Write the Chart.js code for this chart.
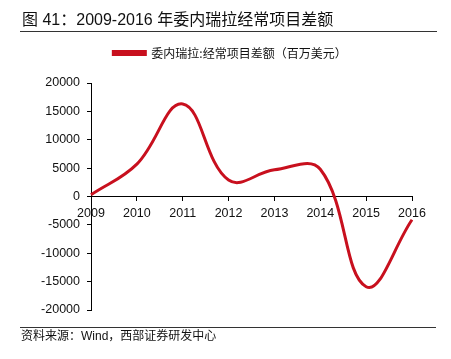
<!DOCTYPE html>
<html>
<head>
<meta charset="utf-8">
<script src="https://cdn.jsdelivr.net/npm/chart.js@4/dist/chart.umd.min.js"></script>
<style>
  html, body { margin: 0; padding: 0; background: #fff; }
  #wrap { position: relative; width: 451px; height: 359px; overflow: hidden; }
  #c { position: absolute; left: 0; top: 0; }
  .txt { position: absolute; white-space: nowrap; color: #111; font-family: "Liberation Sans", "Noto Sans CJK SC", sans-serif; }
  #title { left: 22px; top: 10px; font-size: 16px; line-height: 20px; }
  #src { left: 21px; top: 329px; font-size: 12px; line-height: 15px; }
  .rule { position: absolute; height: 1px; background: #333; }
</style>
</head>
<body>
<div id="wrap">
  <canvas id="c" width="451" height="359"></canvas>
  <div class="txt" id="title">图 41：2009-2016 年委内瑞拉经常项目差额</div>
  <div class="rule" style="left:20px; top:31px; width:417px;"></div>
  <div class="rule" style="left:20px; top:327px; width:416px;"></div>
  <div class="txt" id="src">资料来源：Wind，西部证券研发中心</div>
</div>
<script>
const categories = ['2009', '2010', '2011', '2012', '2013', '2014', '2015', '2016'];
const seriesName = '委内瑞拉:经常项目差额（百万美元）';
const currentAccount = [300, 5700, 16300, 2900, 4700, 4800, -15900, -4100];
const yTicks = [-20000, -15000, -10000, -5000, 0, 5000, 10000, 15000, 20000];

const tickFont = { family: '"Liberation Sans", Arial, sans-serif', size: 12.5 };

new Chart(document.getElementById('c'), {
  type: 'line',
  data: {
    labels: categories,
    datasets: [{
      label: seriesName,
      data: currentAccount,
      xAxisID: 'x',
      yAxisID: 'y',
      borderColor: '#C8101E',
      backgroundColor: '#C8101E',
      borderWidth: 3,
      pointRadius: 0,
      pointHoverRadius: 0,
      tension: 0.4,
      fill: false
    }]
  },
  options: {
    responsive: false,
    animation: false,
    devicePixelRatio: 1,
    layout: { padding: { top: 37, left: 9, right: 0, bottom: 49 } },
    plugins: {
      legend: {
        display: true,
        position: 'top',
        labels: {
          boxWidth: 32,
          boxHeight: 3,
          padding: 10,
          color: '#111',
          font: { family: '"Noto Sans CJK SC", sans-serif', size: 12 }
        }
      },
      tooltip: { enabled: false }
    },
    scales: {
      x: {
        type: 'category',
        position: { y: 0 },
        offset: false,
        grid: { display: true, drawOnChartArea: false, drawTicks: true, tickLength: 4, color: '#000' },
        border: { display: true, color: '#000', width: 1 },
        ticks: { color: '#111', font: tickFont, padding: 6, maxRotation: 0, autoSkip: false }
      },
      spacer: {
        type: 'linear',
        axis: 'x',
        position: 'top',
        display: true,
        ticks: { display: false },
        grid: { display: false },
        border: { display: false },
        afterFit: (s) => { s.height = 14; }
      },
      y: {
        type: 'linear',
        position: 'left',
        min: -20000,
        max: 20000,
        afterBuildTicks: (s) => { s.ticks = yTicks.map(v => ({ value: v })); },
        grid: { display: true, drawOnChartArea: false, drawTicks: true, tickLength: 4, color: '#000' },
        border: { display: true, color: '#000', width: 1 },
        ticks: { color: '#111', font: tickFont, padding: 7, callback: (v) => String(v) },
        afterFit: (s) => { s.width = 82; }
      },
      spacerRight: {
        type: 'linear',
        axis: 'y',
        position: 'right',
        display: true,
        ticks: { display: false },
        grid: { display: false },
        border: { display: false },
        afterFit: (s) => { s.width = 39; }
      }
    }
  }
});
</script>
</body>
</html>
